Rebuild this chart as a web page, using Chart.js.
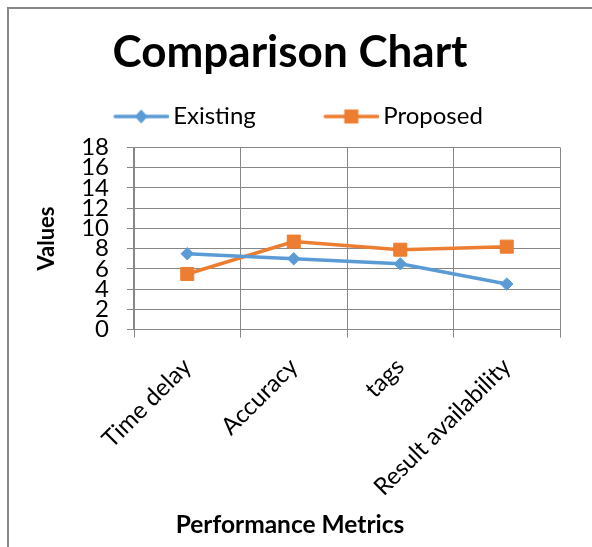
<!DOCTYPE html>
<html><head><meta charset="utf-8">
<script src="https://cdn.jsdelivr.net/npm/chart.js@4.4.1/dist/chart.umd.min.js"></script>
<style>
html,body{margin:0;padding:0;background:#fff;width:592px;height:547px;overflow:hidden;}
#wrap{position:relative;width:592px;height:547px;}
#frame{position:absolute;left:7px;top:7px;width:640px;height:640px;border-top:2px solid #878787;border-left:2px solid #878787;pointer-events:none;}
canvas{position:absolute;left:0;top:0;}
</style></head><body>
<div id="wrap"><canvas id="c" width="592" height="547"></canvas><div id="frame"></div></div>
<script>
const categories = ['Time delay', 'Accuracy', 'tags', 'Result availability'];
const existingValues = [7.5, 7.0, 6.5, 4.5];
const proposedValues = [5.5, 8.7, 7.9, 8.2];
const seriesNames = ['Existing', 'Proposed'];
const yMin = 0, yMax = 18, yStep = 2;
const chartTitle = 'Comparison Chart';
const xTitle = 'Performance Metrics';
const yTitle = 'Values';

const BLUE = '#5B9BD5', ORANGE = '#ED7D31', GRID = '#878787';
const FONT = 'Lato';
const LEGEND_FONT = 24;
const ICON_LEN = 55, ICON_GAP = 4.5, ITEM_GAP = 68, BOX_W = 64;
const textStart = BOX_W + LEGEND_FONT / 2;
const visEnd = textStart - ICON_GAP, visStart = visEnd - ICON_LEN;
const LEGEND_PAD = ITEM_GAP - visStart;

function makeIcon(color, kind) {
  const c = BOX_W / 2, half = Math.max(c - visStart, visEnd - c);
  const w = Math.round(half * 2), h = 18;
  const cv = document.createElement('canvas'); cv.width = w; cv.height = h;
  const g = cv.getContext('2d');
  const x0 = visStart - (c - w / 2);
  g.strokeStyle = color; g.lineWidth = 3.5; g.lineCap = 'round';
  g.beginPath(); g.moveTo(x0 + 1.5, h / 2); g.lineTo(x0 + ICON_LEN - 1.5, h / 2); g.stroke();
  g.fillStyle = color;
  const mx = x0 + ICON_LEN / 2, my = h / 2;
  if (kind === 'diamond') {
    g.beginPath(); g.moveTo(mx - 6.5, my); g.lineTo(mx, my - 7); g.lineTo(mx + 6.5, my); g.lineTo(mx, my + 7); g.closePath(); g.fill();
  } else {
    g.fillRect(mx - 7, my - 7, 14, 14);
  }
  return cv;
}
const icons = [makeIcon(BLUE, 'diamond'), makeIcon(ORANGE, 'square')];

new Chart(document.getElementById('c'), {
  type: 'line',
  data: {
    labels: categories,
    datasets: [
      { label: seriesNames[0], data: existingValues, xAxisID: 'x', yAxisID: 'y', borderColor: BLUE, backgroundColor: BLUE,
        borderWidth: 3.5, pointStyle: 'rectRot', pointRadius: 6.2, pointHoverRadius: 6.2, pointBorderWidth: 1, tension: 0 },
      { label: seriesNames[1], data: proposedValues, xAxisID: 'x', yAxisID: 'y', borderColor: ORANGE, backgroundColor: ORANGE,
        borderWidth: 3.5, pointStyle: 'rect', pointRadius: 9.2, pointHoverRadius: 9.2, pointBorderWidth: 1, tension: 0 }
    ]
  },
  options: {
    responsive: false, animation: false, devicePixelRatio: 1,
    layout: { padding: { left: 20, right: 32, top: 0, bottom: 0 } },
    plugins: {
      tooltip: { enabled: false },
      title: { display: true, text: chartTitle, color: '#000',
        font: { family: FONT, size: 44, weight: 'bold' }, padding: { top: 26, bottom: -25.8 } },
      subtitle: { display: true, position: 'bottom', text: xTitle, color: '#000',
        font: { family: FONT, size: 24.5, weight: 'bold' }, padding: { top: 10, bottom: 7 } },
      legend: {
        display: true, position: 'top',
        labels: {
          usePointStyle: true, pointStyleWidth: BOX_W, padding: LEGEND_PAD,
          color: '#000', font: { family: FONT, size: LEGEND_FONT },
          generateLabels: (chart) => Chart.defaults.plugins.legend.labels.generateLabels(chart)
            .map((it, i) => Object.assign(it, { pointStyle: icons[i] }))
        }
      }
    },
    scales: {
      x: {
        type: 'category', position: 'bottom', offset: true,
        grid: { offset: true, color: GRID, lineWidth: 1, tickLength: 8, tickColor: GRID },
        border: { color: GRID, width: 1 },
        ticks: { color: '#000', font: { family: FONT, size: 24 }, maxRotation: 45, minRotation: 45, padding: 15, labelOffset: 0 },
        afterFit: (s) => { s.height = 171; }
      },
      y: {
        min: yMin, max: yMax,
        ticks: { stepSize: yStep, autoSkip: false, color: '#000', font: { family: FONT, size: 24 }, padding: 18 },
        grid: { color: GRID, lineWidth: 1, tickLength: 7, tickColor: GRID },
        border: { color: GRID, width: 1.5 },
        title: { display: true, text: yTitle, color: '#000', font: { family: FONT, size: 22, weight: 'bold' },
          padding: { top: 14, bottom: 22 } },
        afterFit: (s) => { s.width = 114; }
      },
      spacer: {
        type: 'category', axis: 'x', position: 'top', display: true, offset: true,
        grid: { display: false, drawTicks: false }, border: { display: false },
        ticks: { display: false },
        afterFit: (s) => { s.height = 9; }
      }
    }
  }
});
</script>
</body></html>
